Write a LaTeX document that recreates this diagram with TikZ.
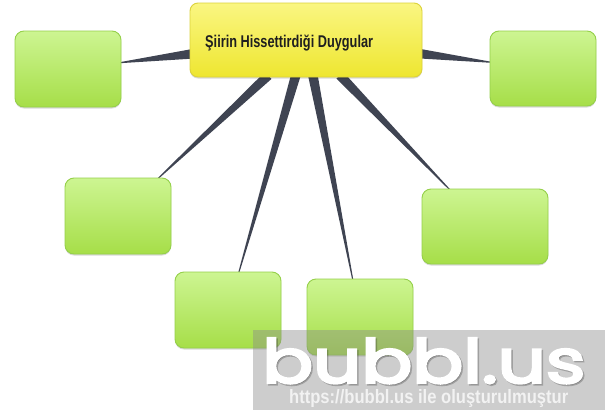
\documentclass[tikz,border=0pt]{standalone}
\usepackage{fontspec}
\setmainfont{Liberation Sans}
\newfontfamily\wmfont{Poppins}[FakeBold=4]
\usetikzlibrary{calc,shadows,backgrounds}
\definecolor{gtop}{HTML}{CDF592}
\definecolor{gbot}{HTML}{A6DE48}
\definecolor{gline}{HTML}{95D04A}
\definecolor{ytop}{HTML}{FAF682}
\definecolor{ybot}{HTML}{EEE630}
\definecolor{yline}{HTML}{DCD23C}
\definecolor{wedgecol}{HTML}{3F4452}
\definecolor{wmgray}{HTML}{8A8A8A}
\definecolor{urlcol}{HTML}{F2F2F2}
\tikzset{
  gbox/.style={rectangle, rounded corners=9pt, draw=gline, line width=0.9pt,
    top color=gtop, bottom color=gbot, minimum width=106pt, minimum height=76pt,
    inner sep=0pt, drop shadow={shadow xshift=0pt, shadow yshift=-1.5pt, opacity=0.15, fill=black}},
  ybox/.style={rectangle, rounded corners=8pt, draw=yline, line width=0.9pt,
    top color=ytop, bottom color=ybot, minimum width=232pt, minimum height=74pt,
    inner sep=0pt, drop shadow={shadow xshift=0pt, shadow yshift=-1.5pt, opacity=0.15, fill=black}},
  wedgefill/.style={fill=wedgecol},
  txt/.style={anchor=base west, inner sep=0pt},
}
\newcommand\wedgeconn[2]{%
  \path (#1) -- (#2) coordinate[pos=0] (wa0) coordinate[pos=1] (wb0);
  \coordinate (wa) at ($(wa0)!-3pt!(wb0)$);
  \coordinate (wb) at ($(wb0)!-2pt!(wa0)$);
  \fill[wedgefill] ($(wa)!4.8pt!90:(wb)$) -- ($(wa)!4.8pt!-90:(wb)$)
     -- ($(wb)!0.5pt!90:(wa)$) -- ($(wb)!0.5pt!-90:(wa)$) -- cycle;
}
\begin{document}
\begin{tikzpicture}[x=1pt,y=-1pt]
\useasboundingbox (0,0) rectangle (616,418);

\node[ybox] (c) at (306,40) {};
\node[gbox] (tl) at (68,69) {};
\node[gbox, minimum height=75pt] (tr) at (543,68.5) {};
\node[gbox] (ml) at (118,216) {};
\node[gbox] (bl) at (228,310) {};
\node[gbox] (bm) at (360,317) {};
\node[gbox, minimum width=126pt, minimum height=75pt] (rm) at (485,226.5) {};

\begin{pgfonlayer}{background}
\fill[white] (0,0) rectangle (616,418);
\wedgeconn{c}{tl}
\wedgeconn{c}{tr}
\wedgeconn{c}{ml}
\wedgeconn{c}{bl}
\wedgeconn{c}{bm}
\wedgeconn{c}{rm}
\end{pgfonlayer}

\node[txt, text=black!88, font=\bfseries\fontsize{17}{18}\selectfont] (ct) at (205,47)
  {\scalebox{0.75}[1]{Şiirin Hissettirdiği Duygular}};

% watermark
\node[anchor=north west, inner sep=0pt, fill=wmgray, fill opacity=0.42,
  minimum width=352pt, minimum height=80pt] (wm) at (253,330) {};
\node[txt, text=black, opacity=0.22, font=\wmfont] (logosh) at (263.5,384.5)
  {\resizebox{323pt}{45pt}{bubbl.us}};
\node[txt, text=white, font=\wmfont] (logo) at (262,383)
  {\resizebox{323pt}{45pt}{bubbl.us}};
\node[txt, text=urlcol, font=\bfseries] (url) at (289,403)
  {\resizebox{279pt}{14pt}{https://bubbl.us ile oluşturulmuştur}};
\end{tikzpicture}
\end{document}
